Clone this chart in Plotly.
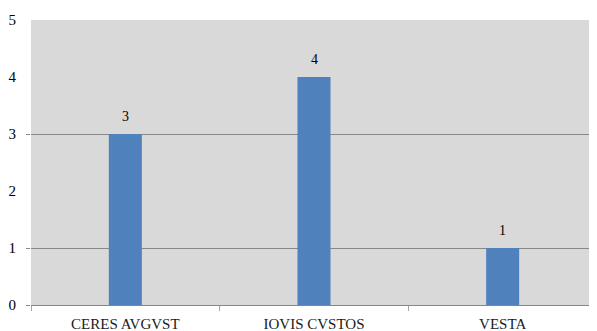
import plotly.graph_objects as go

categories = ["CERES AVGVST", "IOVIS CVSTOS", "VESTA"]
values = [3, 4, 1]
y_ticks = [0, 1, 2, 3, 4, 5]
grid_ticks = [0, 1, 3]

fig = go.Figure()
fig.add_trace(go.Bar(
    x=categories, y=values, width=0.175,
    marker=dict(color="#4F81BD", line=dict(width=0)),
    hoverinfo="x+y",
))
# invisible trace to activate the overlay axis for gridlines
fig.add_trace(go.Scatter(x=categories, y=values, yaxis="y2", mode="none",
                         showlegend=False, hoverinfo="skip"))

for c, v in zip(categories, values):
    fig.add_annotation(x=c, y=v, text=str(v), showarrow=False,
                       yanchor="bottom", yshift=8,
                       font=dict(family="Liberation Serif", size=14, color="#000000"))

font = dict(family="Liberation Serif", size=14, color="#000000")
# page body has an 8px margin, so the figure is sized to fit the window
fig.update_layout(
    width=589, height=323,
    margin=dict(l=23, r=0, t=12, b=26),
    paper_bgcolor="#FFFFFF",
    plot_bgcolor="#D9D9D9",
    showlegend=False,
    font=font,
    xaxis=dict(type="category", tickson="boundaries", ticks="outside",
               ticklen=5, tickcolor="#A6A6A6", showline=True,
               linecolor="#868686", linewidth=1, showgrid=False,
               ticklabelstandoff=5,
               tickfont=dict(family="Liberation Serif", size=15, color="#1a1a1a"),
               range=[-0.5, 2.5]),
    yaxis=dict(range=[0, 5], tickvals=y_ticks, showgrid=False, zeroline=False,
               showline=False, ticks="", ticklabelstandoff=14,
               tickfont=dict(family="Liberation Serif", size=15, color="#000000")),
    yaxis2=dict(range=[0, 5], overlaying="y", side="left", tickvals=grid_ticks,
                showticklabels=False, showgrid=True, gridcolor="#888888",
                gridwidth=1, ticks="outside", ticklen=4, tickcolor="#888888",
                zeroline=False, showline=False, layer="below traces"),
)
fig.write_html("out.html")
